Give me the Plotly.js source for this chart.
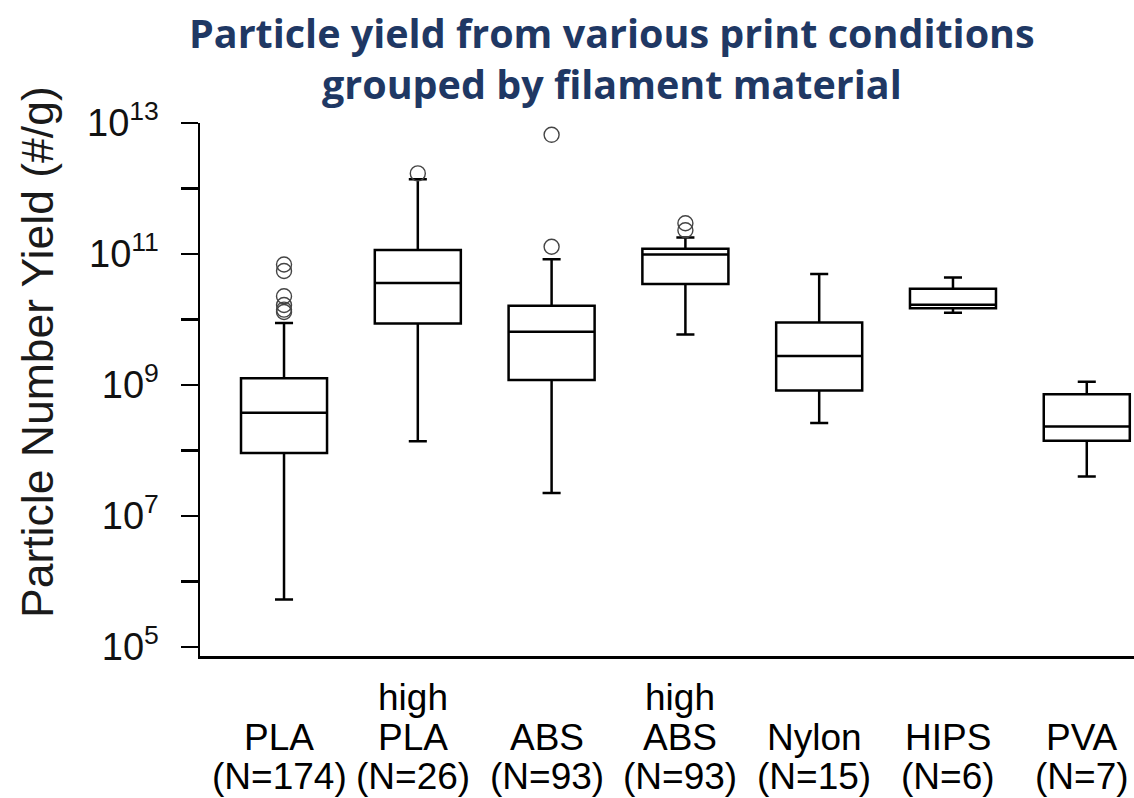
<!DOCTYPE html>
<html>
<head>
<meta charset="utf-8">
<script src="https://cdn.plot.ly/plotly-3.0.1.min.js"></script>
<style>
  html, body { margin: 0; padding: 0; background: #ffffff; }
  #chart { width: 1134px; height: 798px; }
</style>
</head>
<body>
<div id="chart"></div>
<script>
// ---- data ----
const categories = ['PLA', 'high PLA', 'ABS', 'high ABS', 'Nylon', 'HIPS', 'PVA'];
const labelTop   = ['', 'high', '', 'high', '', '', ''];
const labelMid   = ['PLA', 'PLA', 'ABS', 'ABS', 'Nylon', 'HIPS', 'PVA'];
const sampleN    = [174, 26, 93, 93, 15, 6, 7];

const lowerWhisker = [5.3e5, 1.38e8, 2.24e7, 5.9e9, 2.63e8, 1.26e10, 4.0e7];
const q1Values     = [9.1e7, 8.7e9, 1.19e9, 3.47e10, 8.2e8, 1.48e10, 1.4e8];
const medianValues = [3.75e8, 3.6e10, 6.5e9, 9.8e10, 2.77e9, 1.68e10, 2.31e8];
const q3Values     = [1.26e9, 1.15e11, 1.62e10, 1.2e11, 9.0e9, 2.95e10, 7.2e8];
const upperWhisker = [8.8e9, 1.38e12, 8.3e10, 1.78e11, 4.95e10, 4.37e10, 1.12e9];

const outlierCategory = ['PLA', 'PLA', 'PLA', 'PLA', 'PLA', 'PLA',
                         'high PLA', 'ABS', 'ABS', 'high ABS', 'high ABS'];
const outlierValues   = [6.9e10, 5.5e10, 2.26e10, 1.66e10, 1.41e10, 1.3e10,
                         1.7e12, 6.6e12, 1.29e11, 2.95e11, 2.3e11];

const yTickValues      = [1e5, 1e7, 1e9, 1e11, 1e13];
const yTickText        = ['10<sup>5</sup>', '10<sup>7</sup>', '10<sup>9</sup>', '10<sup>11</sup>', '10<sup>13</sup>'];
const yMinorTickValues = [1e6, 1e8, 1e10, 1e12];

const chartTitle = 'Particle yield from various print conditions<br>grouped by filament material';
const yTitle = 'Particle Number Yield (#/g)';

// ---- traces ----
const boxTrace = {
  type: 'box',
  x: categories,
  q1: q1Values,
  median: medianValues,
  q3: q3Values,
  lowerfence: lowerWhisker,
  upperfence: upperWhisker,
  boxpoints: false,
  width: 0.643,
  whiskerwidth: 0.21,
  fillcolor: 'rgba(255,255,255,0)',
  line: { color: '#000000', width: 2.5 },
  hoverinfo: 'skip'
};

const outlierTrace = {
  type: 'scatter',
  mode: 'markers',
  x: outlierCategory,
  y: outlierValues,
  marker: { symbol: 'circle-open', size: 15, color: '#444444', line: { width: 1.4, color: '#444444' } },
  hoverinfo: 'skip'
};

// ---- category labels (bottom-aligned multi-line) ----
const labelFont = { family: 'Liberation Sans, Arial, sans-serif', size: 37, color: '#000000' };
const annotations = [];
categories.forEach((cat, i) => {
  const lines = [
    { text: labelTop[i], shift: -41 },
    { text: labelMid[i], shift: -81 },
    { text: '(N=' + sampleN[i] + ')', shift: -120 }
  ];
  lines.forEach(l => {
    if (!l.text) return;
    annotations.push({
      x: cat, xref: 'x', y: 0, yref: 'paper',
      yanchor: 'middle', xanchor: 'center',
      yshift: l.shift, xshift: -5,
      text: l.text, showarrow: false, font: labelFont
    });
  });
});

// y axis title
annotations.push({
  text: yTitle,
  xref: 'paper', yref: 'paper',
  x: (37 - 200) / 934, y: (656 - 352) / 533,
  xanchor: 'center', yanchor: 'middle',
  textangle: -90, showarrow: false,
  font: { family: 'Liberation Sans, Arial, sans-serif', size: 44.5, color: '#1a1a1a' }
});

// chart title
annotations.push({
  text: '<b>' + chartTitle + '</b>',
  xref: 'paper', yref: 'paper',
  x: (612 - 200) / 934, y: (656 - 4) / 533,
  xanchor: 'center', yanchor: 'top',
  showarrow: false,
  font: { family: 'Open Sans, sans-serif', size: 39.5, color: '#1F3864' }
});

const layout = {
  width: 1134,
  height: 798,
  margin: { l: 200, r: 0, t: 123, b: 142 },
  paper_bgcolor: '#ffffff',
  plot_bgcolor: '#ffffff',
  showlegend: false,
  xaxis: {
    type: 'category',
    categoryorder: 'array',
    categoryarray: categories,
    range: [-0.628, 6.353],
    showline: true, linecolor: '#000000', linewidth: 2.5,
    ticks: '', showticklabels: false,
    showgrid: false, zeroline: false
  },
  yaxis: {
    type: 'log',
    range: [4.86, 13],
    tickmode: 'array',
    tickvals: yTickValues,
    ticktext: yTickText,
    ticks: 'outside', ticklen: 17, tickwidth: 2.5, tickcolor: '#000000',
    ticklabelstandoff: 14,
    minor: {
      tickmode: 'array',
      tickvals: yMinorTickValues,
      ticks: 'outside', ticklen: 17, tickwidth: 2.5, tickcolor: '#000000',
      showgrid: false
    },
    showline: true, linecolor: '#000000', linewidth: 2.5,
    showgrid: false, zeroline: false,
    tickfont: { family: 'Liberation Sans, Arial, sans-serif', size: 38, color: '#111111' }
  },
  annotations: annotations
};

Plotly.newPlot('chart', [boxTrace, outlierTrace], layout, { displayModeBar: false, staticPlot: true });
</script>
</body>
</html>
